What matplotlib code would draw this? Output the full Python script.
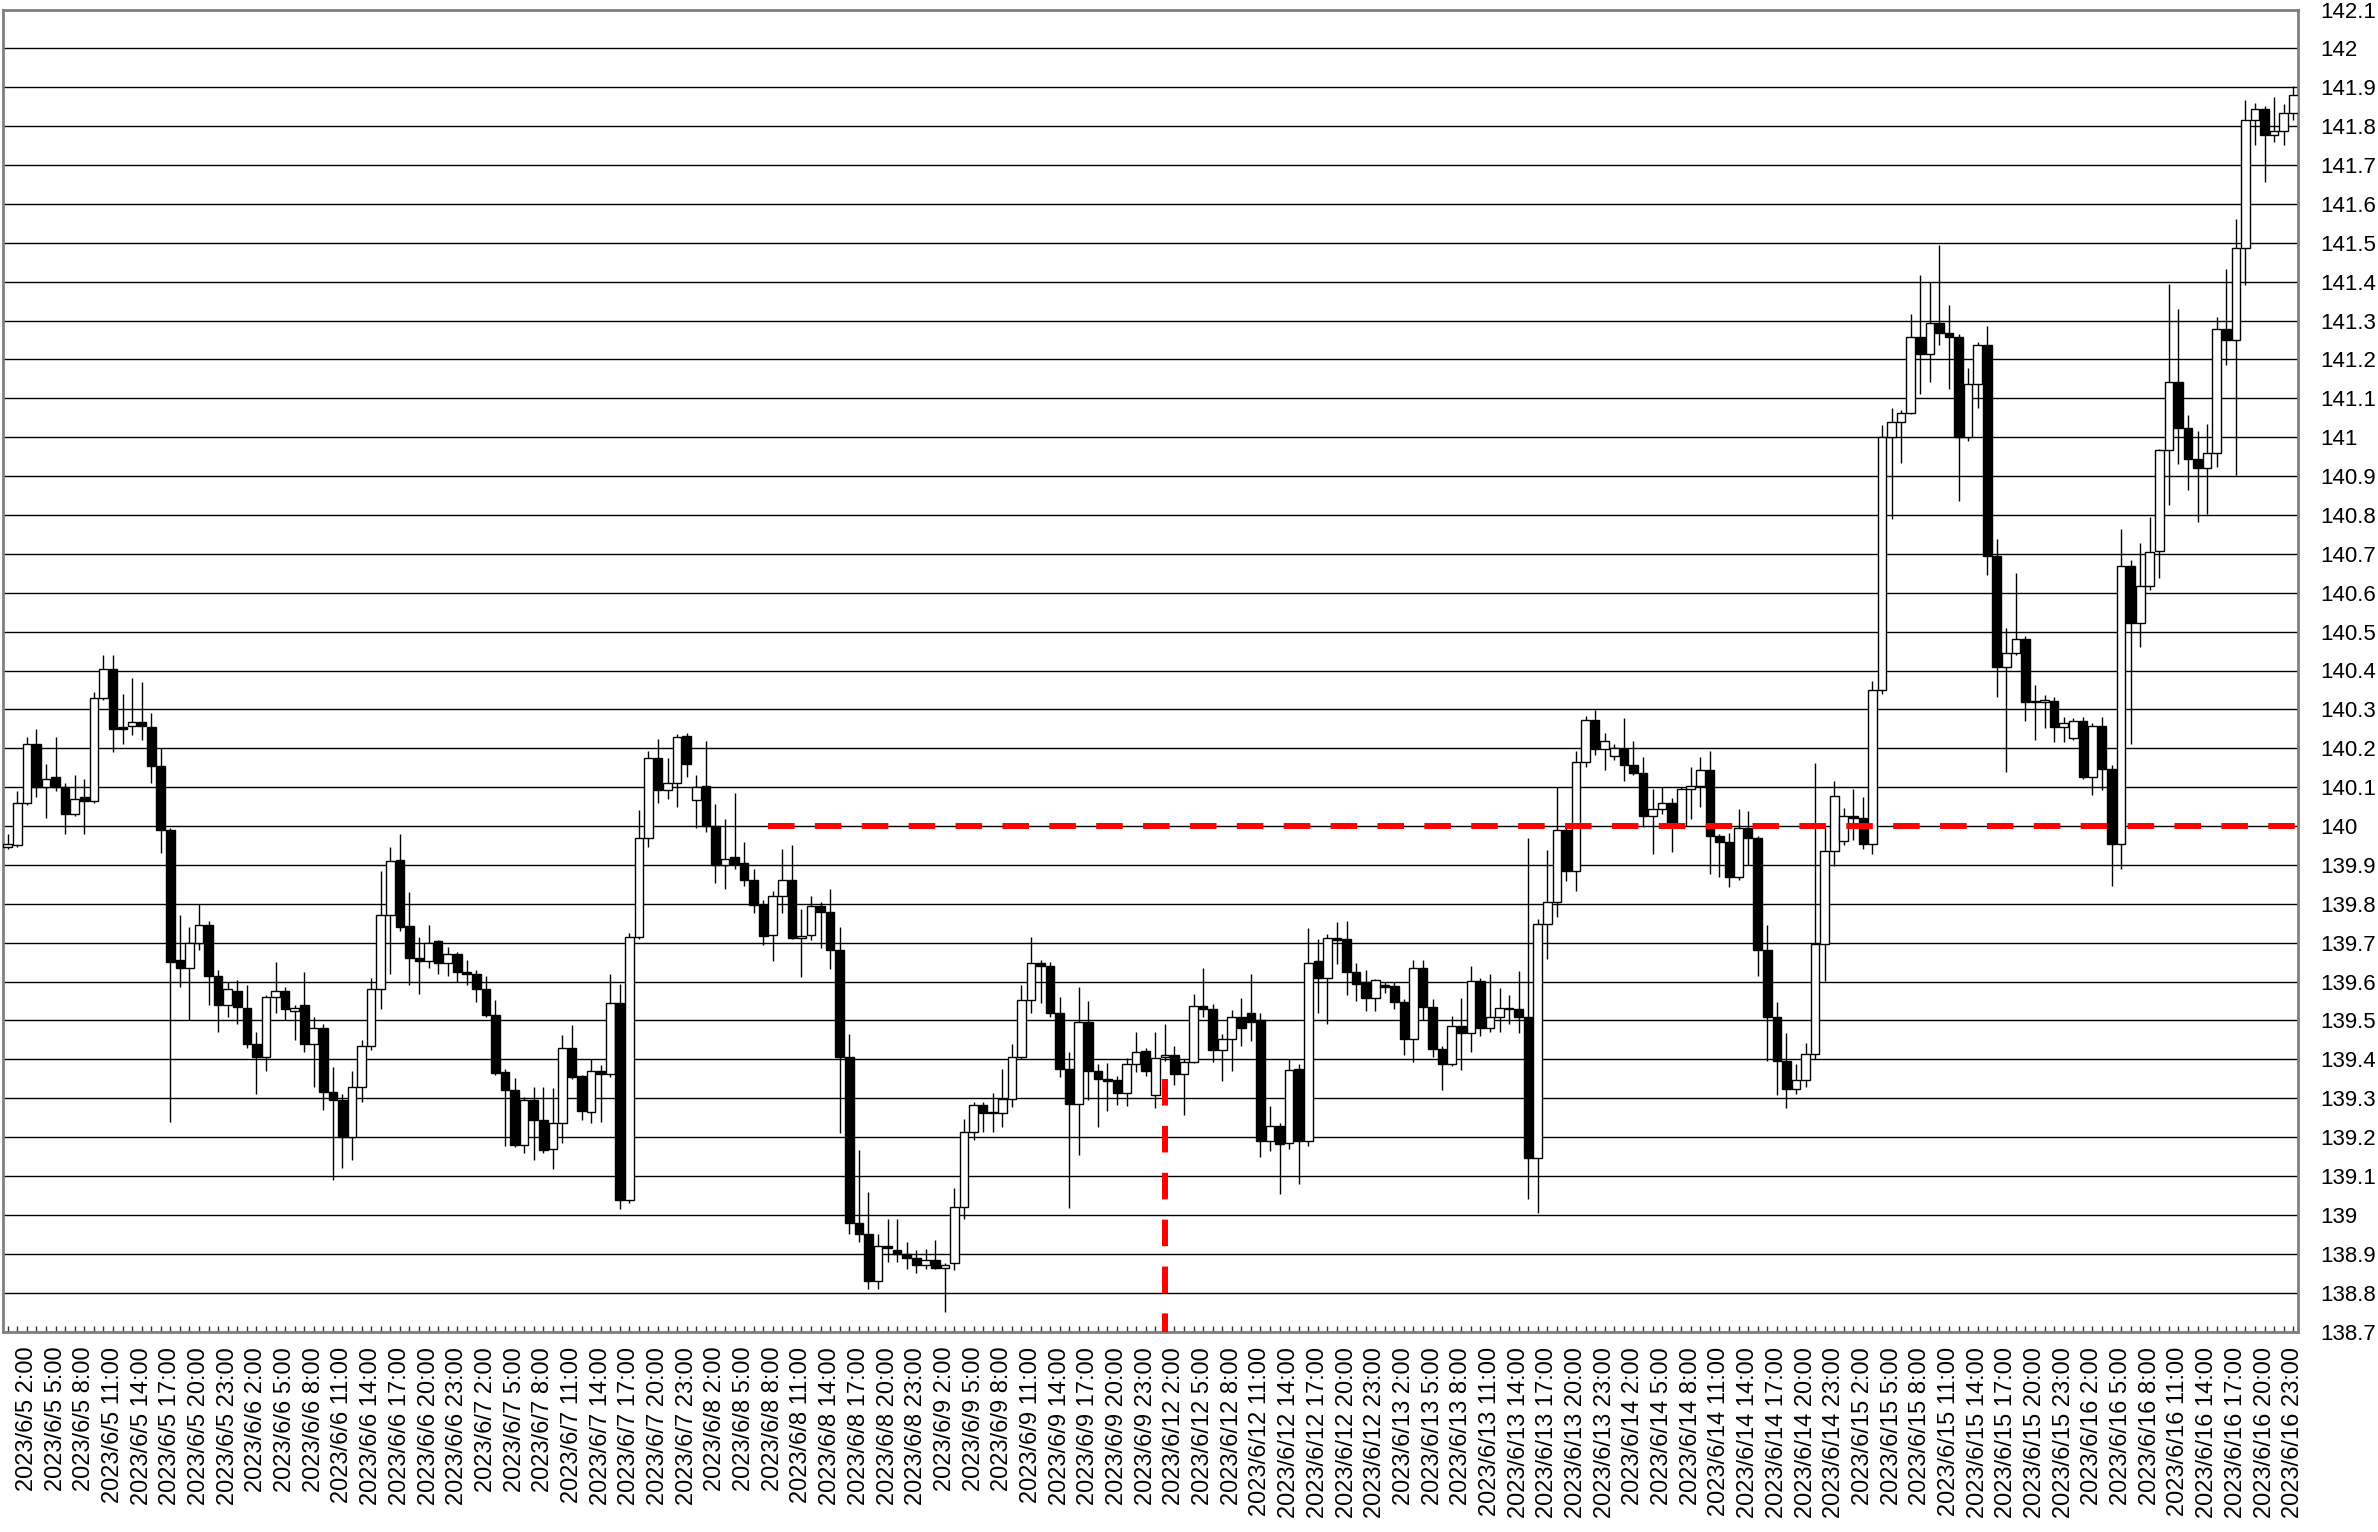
import matplotlib
matplotlib.use("Agg")
import matplotlib.pyplot as plt
import numpy as np
import pandas as pd

# hourly USD/JPY candles, two trading weeks (6/5-6/9, 6/12-6/16)
times = list(pd.date_range("2023-06-05 00:00", periods=120, freq="h")) + \
        list(pd.date_range("2023-06-12 00:00", periods=120, freq="h"))

opens = [
    139.945, 139.95, 140.06, 140.21, 140.10, 140.125, 140.10, 140.03, 140.075, 140.065,
    140.33, 140.405, 140.255, 140.257, 140.268, 140.255, 140.155, 139.99, 139.655, 139.635,
    139.70, 139.745, 139.615, 139.54, 139.575, 139.533, 139.44, 139.405, 139.56, 139.575,
    139.525, 139.54, 139.44, 139.48, 139.317, 139.295, 139.20, 139.33, 139.435, 139.58,
    139.77, 139.912, 139.743, 139.66, 139.653, 139.705, 139.647, 139.67, 139.625, 139.62,
    139.58, 139.514, 139.368, 139.32, 139.18, 139.296, 139.243, 139.17, 139.237, 139.43,
    139.357, 139.265, 139.37, 139.362, 139.545, 139.037, 139.715, 139.97, 140.176, 140.092,
    140.11, 140.232, 140.067, 140.103, 140.0, 139.9, 139.92, 139.905, 139.86, 139.797,
    139.719, 139.82, 139.862, 139.712, 139.719, 139.794, 139.78, 139.68, 139.407, 138.98,
    138.95, 138.83, 138.92, 138.91, 138.90, 138.89, 138.87, 138.884, 138.864, 138.875,
    139.02, 139.212, 139.283, 139.261, 139.262, 139.298, 139.405, 139.553, 139.647, 139.64,
    139.519, 139.375, 139.285, 139.495, 139.37, 139.35, 139.347, 139.313, 139.388, 139.422,
    139.309, 139.405, 139.411, 139.362, 139.394, 139.536, 139.53, 139.423, 139.452, 139.51,
    139.52, 139.5, 139.191, 139.229, 139.184, 139.375, 139.191, 139.652, 139.609, 139.712,
    139.71, 139.624, 139.598, 139.557, 139.59, 139.588, 139.547, 139.451, 139.636, 139.534,
    139.427, 139.387, 139.486, 139.468, 139.602, 139.48, 139.508, 139.533, 139.529, 139.508,
    139.146, 139.747, 139.804, 139.991, 139.884, 140.165, 140.273, 140.197, 140.179, 140.197,
    140.156, 140.137, 140.025, 140.044, 140.06, 140.0, 140.096, 140.103, 140.144, 139.975,
    139.96, 139.869, 139.994, 139.969, 139.682, 139.51, 139.395, 139.324, 139.346, 139.414,
    139.697, 139.935, 139.962, 140.025, 140.02, 139.954, 140.35, 141.0, 141.04, 141.063,
    141.259, 141.213, 141.293, 141.267, 141.259, 141.0, 141.138, 141.238, 140.695, 140.408,
    140.446, 140.48, 140.322, 140.32, 140.322, 140.255, 140.226, 140.271, 140.127, 140.257,
    140.147, 139.954, 140.67, 140.522, 140.617, 140.708, 140.966, 141.143, 141.023, 140.945,
    140.92, 140.959, 141.279, 141.251, 141.487, 141.815, 141.844, 141.776, 141.787, 141.834,
]
highs = [
    139.98, 140.09, 140.23, 140.25, 140.16, 140.23, 140.11, 140.13, 140.12, 140.345,
    140.44, 140.44, 140.34, 140.38, 140.37, 140.29, 140.2, 139.995, 139.77, 139.74,
    139.80, 139.755, 139.63, 139.60, 139.605, 139.59, 139.47, 139.565, 139.65, 139.585,
    139.54, 139.625, 139.51, 139.49, 139.38, 139.31, 139.37, 139.45, 139.61, 139.885,
    139.945, 139.98, 139.83, 139.715, 139.745, 139.707, 139.69, 139.677, 139.655, 139.63,
    139.615, 139.553, 139.375, 139.353, 139.303, 139.33, 139.33, 139.327, 139.463, 139.487,
    139.36, 139.40, 139.385, 139.62, 139.594, 139.725, 140.04, 140.194, 140.223, 140.176,
    140.237, 140.24, 140.131, 140.218, 140.056, 140.018, 140.084, 139.96, 139.889, 139.81,
    139.832, 139.942, 139.95, 139.787, 139.82, 139.805, 139.837, 139.74, 139.466, 139.167,
    139.06, 138.95, 138.99, 138.99, 138.93, 138.91, 138.911, 138.935, 138.875, 139.068,
    139.247, 139.29, 139.29, 139.313, 139.376, 139.44, 139.59, 139.714, 139.655, 139.65,
    139.56, 139.418, 139.587, 139.55, 139.388, 139.39, 139.356, 139.403, 139.47, 139.43,
    139.471, 139.49, 139.433, 139.40, 139.568, 139.636, 139.543, 139.466, 139.527, 139.557,
    139.619, 139.52, 139.281, 139.235, 139.401, 139.387, 139.739, 139.709, 139.722, 139.753,
    139.756, 139.649, 139.63, 139.606, 139.60, 139.60, 139.555, 139.655, 139.655, 139.554,
    139.433, 139.511, 139.558, 139.639, 139.61, 139.62, 139.584, 139.566, 139.627, 139.968,
    139.762, 139.938, 140.1, 140.0, 140.193, 140.284, 140.298, 140.24, 140.211, 140.278,
    140.218, 140.178, 140.094, 140.1, 140.073, 140.1, 140.152, 140.178, 140.193, 139.98,
    139.981, 140.044, 140.038, 139.975, 139.745, 139.548, 139.467, 139.389, 139.442, 140.162,
    139.994, 140.115, 140.046, 140.095, 140.075, 140.374, 141.031, 141.075, 141.07, 141.316,
    141.417, 141.399, 141.494, 141.339, 141.265, 141.178, 141.245, 141.287, 140.739, 140.509,
    140.65, 140.49, 140.362, 140.336, 140.333, 140.28, 140.279, 140.28, 140.264, 140.281,
    140.158, 140.765, 140.684, 140.727, 140.796, 140.97, 141.395, 141.329, 141.057, 141.016,
    141.033, 141.308, 141.432, 141.562, 141.868, 141.86, 141.851, 141.875, 141.858, 141.904,
]
lows = [
    139.94, 139.945, 140.055, 140.075, 140.02, 140.09, 139.98, 140.025, 139.98, 140.06,
    140.325, 140.19, 140.21, 140.235, 140.22, 140.11, 139.93, 139.24, 139.585, 139.50,
    139.68, 139.54, 139.47, 139.51, 139.49, 139.43, 139.31, 139.37, 139.52, 139.50,
    139.45, 139.42, 139.33, 139.27, 139.09, 139.12, 139.14, 139.29, 139.425, 139.53,
    139.62, 139.73, 139.59, 139.567, 139.635, 139.62, 139.615, 139.60, 139.59, 139.547,
    139.51, 139.36, 139.177, 139.175, 139.16, 139.14, 139.16, 139.117, 139.185, 139.35,
    139.245, 139.237, 139.24, 139.355, 139.016, 139.03, 139.71, 139.945, 140.06, 140.07,
    140.05, 140.126, 139.995, 139.985, 139.854, 139.837, 139.89, 139.845, 139.776, 139.695,
    139.653, 139.777, 139.71, 139.613, 139.706, 139.687, 139.633, 139.21, 138.95, 138.93,
    138.81, 138.81, 138.88, 138.88, 138.86, 138.85, 138.86, 138.86, 138.75, 138.858,
    138.99, 139.193, 139.212, 139.212, 139.226, 139.277, 139.40, 139.52, 139.544, 139.51,
    139.354, 139.017, 139.154, 139.296, 139.227, 139.268, 139.283, 139.279, 139.367, 139.356,
    139.276, 139.395, 139.334, 139.257, 139.39, 139.51, 139.392, 139.343, 139.369, 139.433,
    139.448, 139.15, 139.165, 139.054, 139.17, 139.079, 139.176, 139.52, 139.491, 139.646,
    139.566, 139.551, 139.525, 139.525, 139.57, 139.529, 139.41, 139.394, 139.50, 139.407,
    139.32, 139.382, 139.373, 139.42, 139.46, 139.47, 139.471, 139.492, 139.468, 139.042,
    139.005, 139.659, 139.765, 139.859, 139.833, 140.152, 140.182, 140.145, 140.17, 140.115,
    140.13, 139.998, 139.929, 140.031, 139.932, 139.995, 140.019, 140.05, 139.876, 139.87,
    139.844, 139.86, 139.9, 139.614, 139.395, 139.308, 139.275, 139.312, 139.329, 139.40,
    139.601, 139.898, 139.95, 139.965, 139.94, 139.928, 140.34, 140.79, 140.934, 141.06,
    141.11, 141.141, 141.238, 141.124, 140.837, 140.99, 141.075, 140.646, 140.331, 140.14,
    140.44, 140.27, 140.221, 140.253, 140.216, 140.216, 140.22, 140.12, 140.08, 140.092,
    139.845, 139.89, 140.212, 140.461, 140.607, 140.638, 140.825, 140.93, 140.863, 140.782,
    140.803, 140.924, 141.185, 140.903, 141.392, 141.752, 141.657, 141.759, 141.752, 141.815,
]
closes = [
    139.955, 140.06, 140.21, 140.10, 140.12, 140.10, 140.03, 140.07, 140.065, 140.33,
    140.405, 140.25, 140.25, 140.267, 140.257, 140.155, 139.99, 139.65, 139.635, 139.70,
    139.745, 139.615, 139.54, 139.58, 139.535, 139.44, 139.405, 139.56, 139.575, 139.53,
    139.532, 139.44, 139.48, 139.315, 139.295, 139.20, 139.33, 139.435, 139.58, 139.77,
    139.91, 139.74, 139.66, 139.653, 139.70, 139.647, 139.67, 139.625, 139.62, 139.58,
    139.514, 139.366, 139.32, 139.18, 139.296, 139.243, 139.166, 139.237, 139.43, 139.355,
    139.266, 139.37, 139.362, 139.545, 139.037, 139.715, 139.97, 140.176, 140.092, 140.11,
    140.23, 140.16, 140.101, 140.0, 139.9, 139.916, 139.903, 139.86, 139.796, 139.717,
    139.82, 139.862, 139.712, 139.718, 139.794, 139.779, 139.68, 139.407, 138.98, 138.95,
    138.83, 138.92, 138.915, 138.90, 138.89, 138.87, 138.884, 138.864, 138.87, 139.02,
    139.212, 139.283, 139.261, 139.264, 139.298, 139.405, 139.553, 139.647, 139.639, 139.519,
    139.375, 139.285, 139.495, 139.37, 139.35, 139.345, 139.313, 139.388, 139.42, 139.369,
    139.403, 139.411, 139.362, 139.394, 139.536, 139.529, 139.423, 139.452, 139.51, 139.48,
    139.497, 139.191, 139.229, 139.182, 139.373, 139.191, 139.649, 139.609, 139.712, 139.708,
    139.624, 139.593, 139.557, 139.603, 139.585, 139.547, 139.451, 139.636, 139.534, 139.427,
    139.387, 139.486, 139.468, 139.602, 139.48, 139.508, 139.533, 139.53, 139.508, 139.146,
    139.747, 139.804, 139.991, 139.884, 140.165, 140.273, 140.197, 140.218, 140.2, 140.156,
    140.137, 140.025, 140.044, 140.06, 140.006, 140.096, 140.103, 140.144, 139.975, 139.96,
    139.869, 139.994, 139.969, 139.682, 139.51, 139.395, 139.324, 139.346, 139.414, 139.697,
    139.935, 140.078, 140.025, 140.02, 139.954, 140.35, 141.0, 141.04, 141.063, 141.259,
    141.213, 141.293, 141.267, 141.259, 141.0, 141.138, 141.238, 140.695, 140.408, 140.446,
    140.48, 140.32, 140.32, 140.325, 140.255, 140.264, 140.271, 140.127, 140.257, 140.147,
    139.954, 140.67, 140.522, 140.617, 140.706, 140.966, 141.143, 141.023, 140.945, 140.92,
    140.959, 141.279, 141.251, 141.487, 141.815, 141.844, 141.776, 141.787, 141.834, 141.879,
]

# reference lines
h_level = 140.0
h_start = 79.5
v_index = 121
v_top = 139.35

tick_labels = [f"{t.year}/{t.month}/{t.day} {t.hour}:00" for t in times]

plt.rcParams["font.family"] = ["Liberation Sans", "DejaVu Sans"]

fig = plt.figure(figsize=(23.78, 15.32), dpi=100)
ax = fig.add_axes([3 / 2378, 1 - 1331.5 / 1532, 2295 / 2378, 1322 / 1532])

x = np.arange(len(opens))
o = np.array(opens)
h = np.array(highs)
l = np.array(lows)
c = np.array(closes)
up = c >= o

ax.vlines(x, l, h, color="black", lw=1.0, zorder=2)
ax.bar(x, c - o, bottom=o, width=0.9, color=np.where(up, "white", "black"),
       edgecolor="black", linewidth=1.0, zorder=3)

# red dashed lines
ax.plot([h_start, 240.1], [h_level, h_level], color="#ff0000", lw=4.3,
        dashes=(4.45, 3.4), solid_capstyle="butt", dash_capstyle="butt",
        clip_on=False, zorder=5)
ax.plot([v_index, v_index], [v_top, 138.7], color="#ff0000", lw=4.3,
        dashes=(4.45, 3.4), dash_capstyle="butt", zorder=5)

ax.set_xlim(-0.5, len(opens) - 0.5)
ax.set_ylim(138.7, 142.1)

yt = np.round(np.arange(138.7, 142.15, 0.1), 1)
ax.set_yticks(yt)
ax.set_yticklabels([f"{v:g}" for v in yt])
ax.yaxis.tick_right()
ax.tick_params(axis="y", length=0, pad=16, labelsize=16)
ax.grid(axis="y", color="black", lw=1.0)
ax.set_axisbelow(True)

major = x[2::3]
ax.set_xticks(major)
ax.set_xticklabels([tick_labels[i] for i in major], rotation=90)
ax.set_xticks(x, minor=True)
ax.tick_params(axis="x", which="both", direction="in", length=4, width=1,
               color="#333333", labelsize=17, pad=11)

for side in ["left", "right", "top", "bottom"]:
    ax.spines[side].set_color("#808080")
    ax.spines[side].set_linewidth(2)

fig.savefig("out.png", dpi=100)
